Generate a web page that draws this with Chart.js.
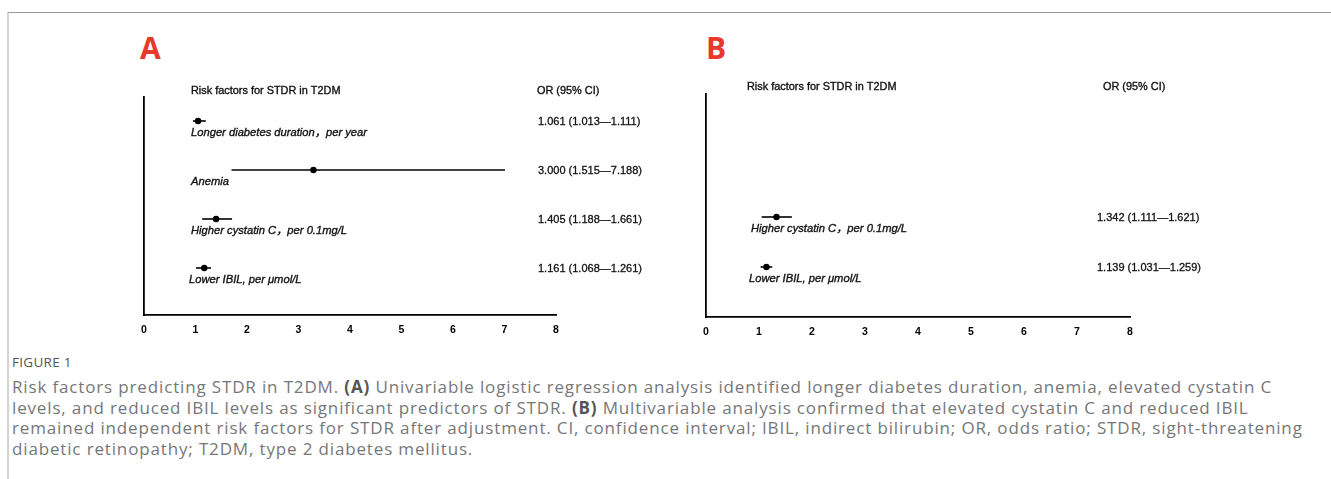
<!DOCTYPE html>
<html>
<head>
<meta charset="utf-8">
<script src="https://cdn.jsdelivr.net/npm/chart.js@4.4.1/dist/chart.umd.min.js"></script>
<style>
  html, body { margin: 0; padding: 0; background: #fff; }
  body { width: 1331px; height: 479px; position: relative; overflow: hidden; }
  #frame { position: absolute; left: 7px; top: 12px; right: 0; bottom: 0;
           border-top: 1px solid #9b9b9b; border-left: 2px solid #d3d3d3; }
  .letter { position: absolute; font-family: "Open Sans", "Liberation Sans", sans-serif;
            font-weight: 700; font-size: 30px; color: #e8392d; line-height: 1; }
  #cA { position: absolute; left: 0; top: 0; }
  #cB { position: absolute; left: 665px; top: 0; }
  #figlabel { position: absolute; left: 12px; top: 353px; font-family: "Open Sans", sans-serif;
              font-size: 13.5px; color: #555; letter-spacing: 0.3px; }
  #caption { position: absolute; left: 12px; top: 377px; font-family: "Open Sans", sans-serif;
             font-weight: 400; color: #76777a; line-height: 20.7px; font-size: 17px; }
  #caption div { white-space: nowrap; }
  #caption span { display: inline-block; white-space: nowrap; }
  #caption b { font-weight: 700; color: #555; }
</style>
</head>
<body>
<div id="frame"></div>
<div class="letter" style="left:140px; top:33px;">A</div>
<div class="letter" style="left:706px; top:33px;">B</div>
<canvas id="cA" width="665" height="345" style="width:665px;height:345px"></canvas>
<canvas id="cB" width="666" height="345" style="width:666px;height:345px"></canvas>
<div id="figlabel">FIGURE 1</div>
<div id="caption">
  <div><span id="cl1">Risk factors predicting STDR in T2DM. <b>(A)</b> Univariable logistic regression analysis identified longer diabetes duration, anemia, elevated cystatin C</span></div>
  <div><span>levels, and reduced IBIL levels as significant predictors of STDR. <b>(B)</b> Multivariable analysis confirmed that elevated cystatin C and reduced IBIL</span></div>
  <div><span>remained independent risk factors for STDR after adjustment. CI, confidence interval; IBIL, indirect bilirubin; OR, odds ratio; STDR, sight-threatening</span></div>
  <div><span>diabetic retinopathy; T2DM, type 2 diabetes mellitus.</span></div>
</div>
<script>
// ---------------- DATA ----------------
const headerFactor = "Risk factors for STDR in T2DM";
const headerOR = "OR (95% CI)";
const xTickValues = [0, 1, 2, 3, 4, 5, 6, 7, 8];

// Panel A (univariable) - marks as drawn in the figure
const aLabels = ["Longer diabetes duration，per year", "Anemia", "Higher cystatin C，per 0.1mg/L", "Lower IBIL, per μmol/L"];
const aOR   = [1.05, 3.29, 1.40, 1.17];
const aLow  = [0.95, 1.70, 1.13, 1.01];
const aHigh = [1.20, 7.01, 1.71, 1.30];
const aText = ["1.061 (1.013—1.111)", "3.000 (1.515—7.188)", "1.405 (1.188—1.661)", "1.161 (1.068—1.261)"];
const aRows = [0, 1, 2, 3];

// Panel B (multivariable)
const bLabels = ["Higher cystatin C，per 0.1mg/L", "Lower IBIL, per μmol/L"];
const bOR   = [1.33, 1.14];
const bLow  = [1.05, 1.03];
const bHigh = [1.62, 1.25];
const bText = ["1.342 (1.111—1.621)", "1.139 (1.031—1.259)"];
const bRows = [2, 3];

// ---------------- CHARTS ----------------
const FONT = '"Liberation Sans", Arial, "Noto Sans CJK SC", sans-serif';

function buildDatasets(rows, ors, lows, highs) {
  const ds = [];
  rows.forEach((r, i) => {
    ds.push({
      type: 'line',
      data: [{x: lows[i], y: r}, {x: highs[i], y: r}],
      borderColor: '#000', borderWidth: 1.6, pointRadius: 0, fill: false
    });
  });
  ds.push({
    type: 'scatter',
    data: rows.map((r, i) => ({x: ors[i], y: r})),
    backgroundColor: '#000', borderColor: '#000', pointRadius: 3.2, borderWidth: 0
  });
  return ds;
}

function drawBoldish(ctx, text, x, y, w) {
  ctx.lineWidth = w;
  ctx.strokeStyle = ctx.fillStyle;
  ctx.strokeText(text, x, y);
  ctx.fillText(text, x, y);
}

function textPlugin(cfg) {
  return {
    id: 'forestText',
    afterDraw(chart) {
      const ctx = chart.ctx;
      const ys = chart.scales.y;
      const left = chart.chartArea.left;
      ctx.save();
      ctx.fillStyle = '#111';
      ctx.textBaseline = 'middle';
      ctx.textAlign = 'left';
      ctx.font = '10.9px ' + FONT;
      drawBoldish(ctx, headerFactor, left + cfg.headX, cfg.headY, 0.35);
      drawBoldish(ctx, headerOR, left + cfg.orX, cfg.headY, 0.35);
      cfg.rows.forEach((r, i) => {
        const py = ys.getPixelForValue(r);
        ctx.font = 'italic 11.2px ' + FONT;
        drawBoldish(ctx, cfg.labels[i], left + cfg.labelX[i], py + 11.5, 0.35);
        ctx.font = '11px ' + FONT;
        drawBoldish(ctx, cfg.texts[i], left + cfg.ciX, py + 1, 0.3);
      });
      ctx.restore();
    }
  };
}

function makeChart(id, datasets, yMin, yMax, padding, xHeight, plugin) {
  return new Chart(document.getElementById(id), {
    data: { datasets },
    options: {
      responsive: false, animation: false,
      layout: { padding },
      plugins: { legend: { display: false }, tooltip: { enabled: false } },
      scales: {
        x: {
          type: 'linear', min: 0, max: 8,
          afterBuildTicks: s => { s.ticks = xTickValues.map(v => ({value: v})); },
          afterFit: s => { s.height = xHeight; },
          grid: { display: false, drawTicks: false },
          border: { display: true, color: '#000', width: 1.8 },
          ticks: { color: '#000', padding: 9, font: { family: FONT, size: 10.5, weight: 'bold' } }
        },
        y: {
          type: 'linear', min: yMin, max: yMax, reverse: true,
          afterFit: s => { s.width = 0; },
          grid: { display: false, drawTicks: false },
          border: { display: true, color: '#000', width: 1.8 },
          ticks: { display: false }
        }
      }
    },
    plugins: [plugin]
  });
}

makeChart('cA', buildDatasets(aRows, aOR, aLow, aHigh), -0.49, 3.96,
  { left: 144, top: 97, right: 109, bottom: 0 }, 30,
  textPlugin({ rows: aRows, labels: aLabels, texts: aText, headX: 47, orX: 393, headY: 91,
               labelX: [47, 47, 47, 45], ciX: 394 }));

makeChart('cB', buildDatasets(bRows, bOR, bLow, bHigh), -0.46, 4.0,
  { left: 41, top: 94, right: 201, bottom: 0 }, 28,
  textPlugin({ rows: bRows, labels: bLabels, texts: bText, headX: 41, orX: 397, headY: 87,
               labelX: [45, 43], ciX: 391 }));

// stretch caption lines with letter-spacing so line 1 spans the reference width
function fitCaption() {
  const cap = document.getElementById('caption');
  const l1 = document.getElementById('cl1');
  cap.style.letterSpacing = '0px';
  const w = l1.getBoundingClientRect().width;
  const n = l1.textContent.length;
  if (w > 0) cap.style.letterSpacing = ((1260 - w) / n).toFixed(3) + 'px';
}
fitCaption();
if (document.fonts && document.fonts.ready) document.fonts.ready.then(fitCaption);
</script>
</body>
</html>
